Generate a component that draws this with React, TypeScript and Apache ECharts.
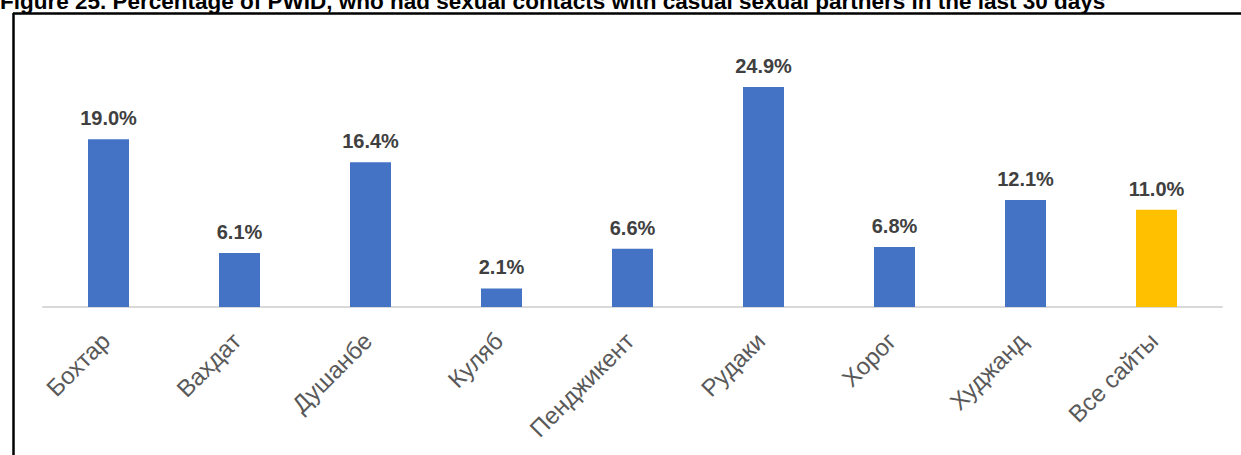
import React, { useEffect, useRef } from "react";
import * as echarts from "echarts";

const categories = ["Бохтар", "Вахдат", "Душанбе", "Куляб", "Пенджикент", "Рудаки", "Хорог", "Худжанд", "Все сайты"];
const values = [19.0, 6.1, 16.4, 2.1, 6.6, 24.9, 6.8, 12.1, 11.0];
const highlightIndex = 8;
const titleText = "Figure 25. Percentage of PWID, who had sexual contacts with casual sexual partners in the last 30 days";

export default function App() {
  const ref = useRef<HTMLDivElement>(null);
  useEffect(() => {
    if (!ref.current) return;
    const chart = echarts.init(ref.current, null, { renderer: "svg" });
    chart.setOption({
      animation: false,
      backgroundColor: "#ffffff",
      grid: { left: 43, right: 19, top: 42, bottom: 148, containLabel: false },
      xAxis: {
        type: "category",
        data: categories,
        axisLine: { lineStyle: { color: "#d9d9d9", width: 2 } },
        axisTick: { show: false },
        axisLabel: {
          rotate: 45,
          interval: 0,
          margin: 27,
          padding: [0, 4, 0, 0],
          color: "#595959",
          fontFamily: "'Liberation Sans', Arial, sans-serif",
          fontSize: 24,
        },
      },
      yAxis: {
        type: "value",
        min: 0,
        max: 30,
        show: false,
        splitLine: { show: false },
      },
      graphic: [
        {
          type: "text",
          left: 0,
          top: -10,
          style: {
            text: titleText,
            fill: "#000000",
            font: "bold 22.5px 'Liberation Sans', Arial, sans-serif",
          },
        },
        {
          type: "line",
          shape: { x1: 13, y1: 13.5, x2: 1241, y2: 13.5 },
          style: { stroke: "#000000", lineWidth: 2.5 },
        },
        {
          type: "line",
          shape: { x1: 13.5, y1: 13, x2: 13.5, y2: 455 },
          style: { stroke: "#000000", lineWidth: 2.5 },
        },
      ],
      series: [
        {
          type: "bar",
          barWidth: 41,
          data: values.map((v, i) => ({
            value: v,
            itemStyle: { color: i === highlightIndex ? "#FFC000" : "#4472C4" },
          })),
          label: {
            show: true,
            position: "top",
            distance: 11,
            color: "#404040",
            fontFamily: "'Liberation Sans', Arial, sans-serif",
            fontWeight: "bold",
            fontSize: 20,
            formatter: (p: any) => p.value.toFixed(1) + "%",
          },
        },
      ],
    });
    return () => chart.dispose();
  }, []);
  return <div ref={ref} style={{ position: "absolute", left: 0, top: 0, width: 1241, height: 455 }} />;
}
